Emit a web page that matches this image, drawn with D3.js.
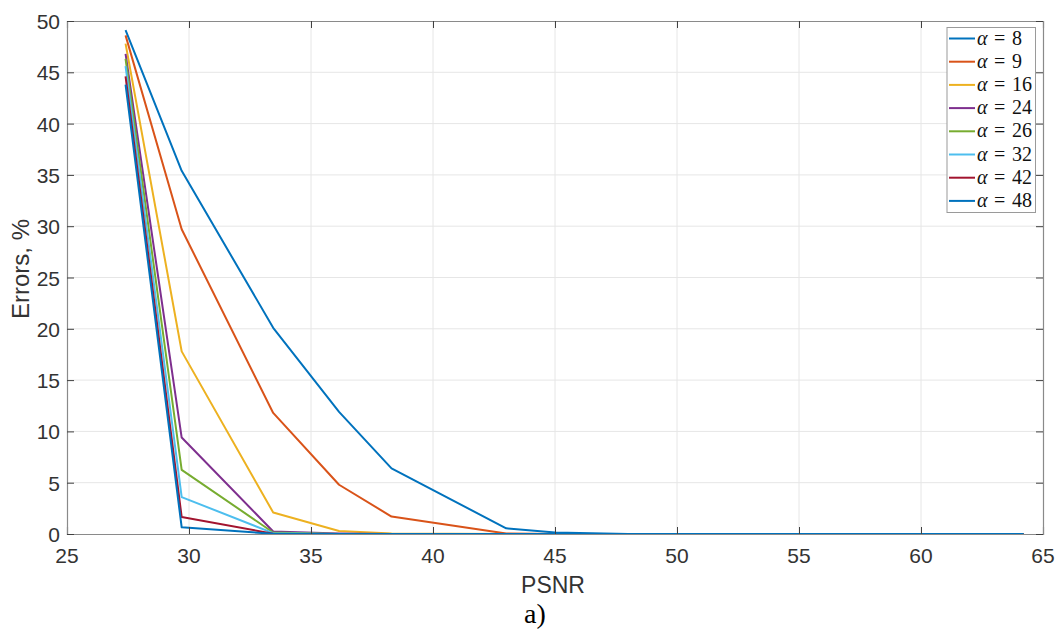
<!DOCTYPE html>
<html><head><meta charset="utf-8">
<script src="https://cdn.jsdelivr.net/npm/d3@7"></script>
<style>body{margin:0;background:#fff}svg{display:block}</style>
</head><body>
<svg id="chart" width="1061" height="632"></svg>
<script>
const psnr = [27.4, 29.7, 33.45, 36.15, 38.3, 43.0, 45.0, 48.0, 52.0, 57.0, 64.2];
const alphas = [8, 9, 16, 24, 26, 32, 42, 48];
const errA8  = [49.1, 35.4, 20.1, 11.9, 6.4, 0.55, 0.15, 0, 0, 0, 0];
const errA9  = [48.6, 29.7, 11.8, 4.8, 1.7, 0.05, 0, 0, 0, 0, 0];
const errA16 = [47.8, 17.8, 2.1, 0.3, 0.05, 0, 0, 0, 0, 0, 0];
const errA24 = [46.8, 9.4, 0.25, 0.05, 0, 0, 0, 0, 0, 0, 0];
const errA26 = [46.3, 6.25, 0.15, 0, 0, 0, 0, 0, 0, 0, 0];
const errA32 = [45.6, 3.6, 0.08, 0, 0, 0, 0, 0, 0, 0, 0];
const errA42 = [44.6, 1.65, 0.03, 0, 0, 0, 0, 0, 0, 0, 0];
const errA48 = [43.8, 0.65, 0.02, 0, 0, 0, 0, 0, 0, 0, 0];
const seriesValues = [errA8, errA9, errA16, errA24, errA26, errA32, errA42, errA48];
const colors = ["#0072BD", "#D95319", "#EDB120", "#7E2F8E", "#77AC30", "#4DBEEE", "#A2142F", "#0072BD"];
const xTicks = [25, 30, 35, 40, 45, 50, 55, 60, 65];
const yTicks = [0, 5, 10, 15, 20, 25, 30, 35, 40, 45, 50];

const svg = d3.select("#chart");
const L = 67, R = 1043, T = 21, B = 534;
const x = d3.scaleLinear().domain([25, 65]).range([L, R]);
const y = d3.scaleLinear().domain([0, 50]).range([B, T]);
const tickCol = "#404040", boxCol = "#8a8a8a", textCol = "#333333";
const sans = "'Liberation Sans', Arial, sans-serif";
const serif = "'Liberation Serif', 'Times New Roman', serif";

// grid
const grid = svg.append("g");
grid.selectAll(".gx").data(xTicks.slice(1, -1)).join("line")
  .attr("x1", d => x(d)).attr("x2", d => x(d)).attr("y1", T).attr("y2", B)
  .attr("stroke", "#e6e6e6").attr("stroke-width", 1);
grid.selectAll(".gy").data(yTicks.slice(1, -1)).join("line")
  .attr("y1", d => y(d)).attr("y2", d => y(d)).attr("x1", L).attr("x2", R)
  .attr("stroke", "#e6e6e6").attr("stroke-width", 1);

// lines
const line = d3.line().x(d => x(d[0])).y(d => y(d[1]));
seriesValues.forEach((vals, i) => {
  svg.append("path")
    .datum(psnr.map((p, j) => [p, vals[j]]))
    .attr("d", line).attr("fill", "none")
    .attr("stroke", colors[i]).attr("stroke-width", 2)
    .attr("stroke-linejoin", "round");
});

// axes (inward ticks, box)
const tl = 7;
function style(g) {
  g.select(".domain").attr("stroke", boxCol).attr("stroke-width", 1.2);
  g.selectAll(".tick line").attr("stroke", tickCol);
  g.selectAll(".tick text").remove();
}
svg.append("g").attr("transform", `translate(0,${B})`).call(d3.axisBottom(x).tickValues(xTicks).tickSize(-tl)).call(style);
svg.append("g").attr("transform", `translate(0,${T})`).call(d3.axisTop(x).tickValues(xTicks).tickSize(-tl)).call(style);
svg.append("g").attr("transform", `translate(${L},0)`).call(d3.axisLeft(y).tickValues(yTicks).tickSize(-tl)).call(style);
svg.append("g").attr("transform", `translate(${R},0)`).call(d3.axisRight(y).tickValues(yTicks).tickSize(-tl)).call(style);

// tick labels
svg.append("g").selectAll("text").data(xTicks).join("text")
  .attr("x", d => x(d)).attr("y", 563).attr("text-anchor", "middle")
  .attr("fill", textCol).style("font-family", sans).style("font-size", "21px").text(d => d);
svg.append("g").selectAll("text").data(yTicks).join("text")
  .attr("x", 60).attr("y", d => y(d) + 8).attr("text-anchor", "end")
  .attr("fill", textCol).style("font-family", sans).style("font-size", "21px").text(d => d);

// axis labels
svg.append("text").attr("x", 553).attr("y", 593).attr("text-anchor", "middle")
  .attr("fill", textCol).style("font-family", sans).style("font-size", "23px").text("PSNR");
svg.append("text").attr("transform", `translate(29,269) rotate(-90)`).attr("text-anchor", "middle")
  .attr("fill", textCol).style("font-family", sans).style("font-size", "24px").text("Errors, %");
svg.append("text").attr("x", 524).attr("y", 623).attr("text-anchor", "start")
  .attr("fill", "#000").style("font-family", serif).style("font-size", "28px").text("a)");

// legend
const lg = svg.append("g");
lg.append("rect").attr("x", 947).attr("y", 27.5).attr("width", 88.5).attr("height", 185)
  .attr("fill", "#fff").attr("stroke", "#9a9a9a").attr("stroke-width", 1);
alphas.forEach((a, i) => {
  const yy = 38.5 + i * 23.2;
  lg.append("line").attr("x1", 949).attr("x2", 975).attr("y1", yy).attr("y2", yy)
    .attr("stroke", colors[i]).attr("stroke-width", 2);
  const g = lg.append("g").attr("fill", "#111").style("font-family", serif).style("font-size", "20px");
  g.append("text").attr("x", 977).attr("y", yy + 6).style("font-style", "italic").text("α");
  g.append("text").attr("x", 994).attr("y", yy + 6).text("=");
  g.append("text").attr("x", 1012).attr("y", yy + 6).text(a);
});
</script>
</body></html>
